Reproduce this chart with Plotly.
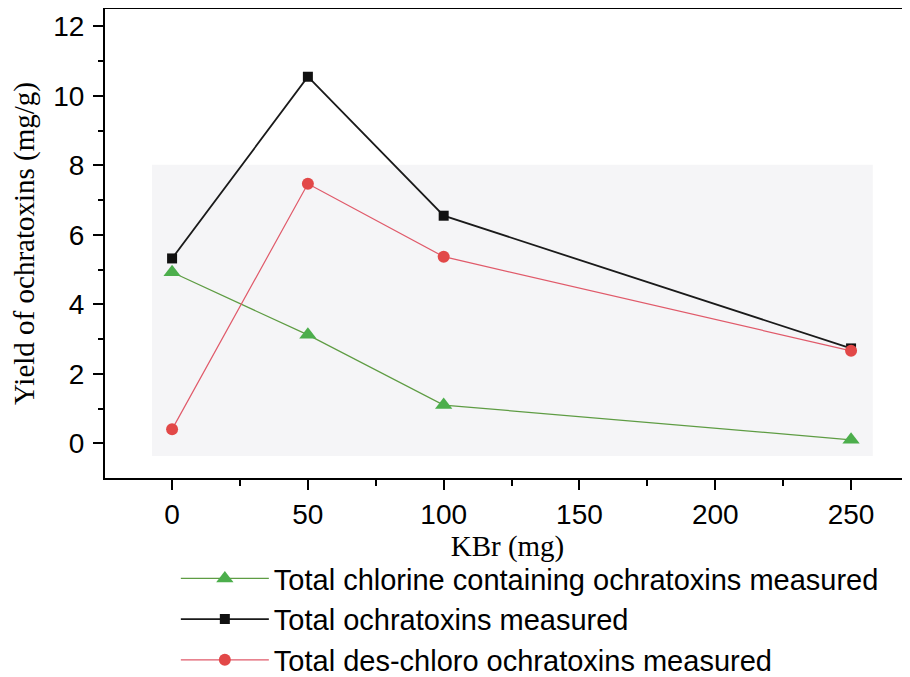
import plotly.graph_objects as go

kbr = [0, 50, 100, 250]
chlorine = [4.92, 3.12, 1.1, 0.1]
total = [5.32, 10.55, 6.55, 2.73]
deschloro = [0.4, 7.47, 5.37, 2.66]

names = ["Total chlorine containing ochratoxins measured",
         "Total ochratoxins measured",
         "Total des-chloro ochratoxins measured"]

fig = go.Figure()
fig.add_trace(go.Scatter(x=kbr, y=chlorine, mode="lines+markers", name=names[0],
                         line=dict(color="#5e9c43", width=1.2),
                         marker=dict(symbol="triangle-up", size=15, color="#4cae4c",
                                     line=dict(width=0))))
fig.add_trace(go.Scatter(x=kbr, y=total, mode="lines+markers", name=names[1],
                         line=dict(color="#1a1a1a", width=1.8),
                         marker=dict(symbol="square", size=10, color="#111111",
                                     line=dict(width=0))))
fig.add_trace(go.Scatter(x=kbr, y=deschloro, mode="lines+markers", name=names[2],
                         line=dict(color="#e05a6a", width=1.2),
                         marker=dict(symbol="circle", size=12, color="#e24848",
                                     line=dict(width=0))))

fig.add_shape(type="rect", xref="x", yref="y", x0=-7.4, x1=258, y0=-0.37, y1=8.02,
              fillcolor="#f5f5f7", line=dict(width=0), layer="below")

fig.update_layout(
    width=902, height=669,
    margin=dict(l=97, r=0, t=1, b=199, autoexpand=False),
    paper_bgcolor="white", plot_bgcolor="white",
    font=dict(family="Liberation Sans, Arial", color="black"),
    legend=dict(x=0.088, y=-0.16, xanchor="left", yanchor="top",
                font=dict(size=29, family="Liberation Sans, Arial"),
                itemwidth=88, tracegroupgap=0, bgcolor="rgba(0,0,0,0)"),
    showlegend=True,
)
fig.update_xaxes(range=[-24.7, 271.7], tickvals=[0, 50, 100, 150, 200, 250],
                 ticks="outside", ticklen=10, tickwidth=1.5, tickcolor="black",
                 tickfont=dict(size=28), automargin=False,
                 showline=True, linecolor="black", linewidth=2, mirror=True,
                 showgrid=False, zeroline=False,
                 minor=dict(tickvals=[25, 75, 125, 175, 225], ticks="outside",
                            ticklen=6, tickcolor="black", tickwidth=1.5),
                 title=dict(text="KBr (mg)", font=dict(family="Liberation Serif, Times New Roman", size=29),
                            standoff=6))
fig.update_yaxes(range=[-1, 12.5], tickvals=[0, 2, 4, 6, 8, 10, 12],
                 ticks="outside", ticklen=10, tickwidth=1.5, tickcolor="black",
                 tickfont=dict(size=28), automargin=False, ticklabelstandoff=3,
                 showline=True, linecolor="black", linewidth=2,
                 showgrid=False, zeroline=False,
                 minor=dict(tickvals=[1, 3, 5, 7, 9, 11], ticks="outside",
                            ticklen=5, tickcolor="black", tickwidth=1.5),
                 title=dict(text="Yield of ochratoxins (mg/g)",
                            font=dict(family="Liberation Serif, Times New Roman", size=29),
                            standoff=14))

fig.write_html("out.html")
